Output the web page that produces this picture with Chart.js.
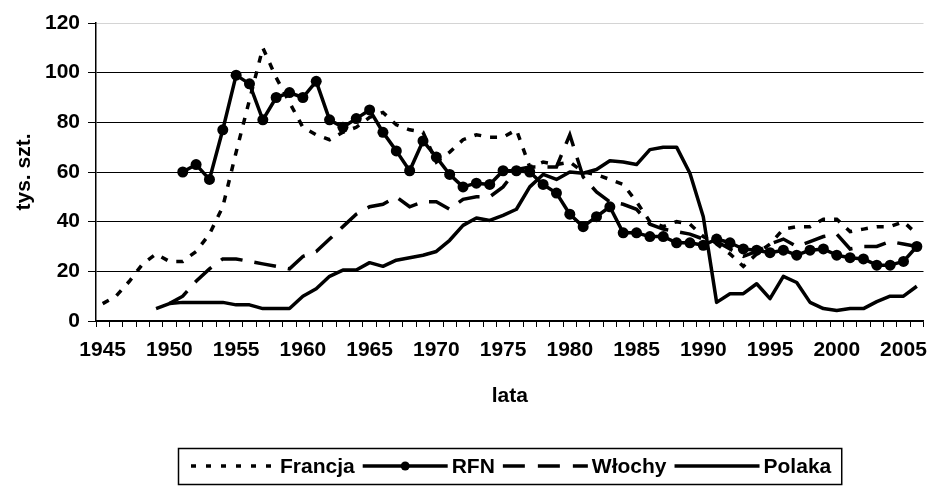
<!DOCTYPE html>
<html>
<head>
<meta charset="utf-8">
<script src="https://cdn.jsdelivr.net/npm/chart.js@4/dist/chart.umd.min.js"></script>
<style>
html,body{margin:0;padding:0;background:#fff;}
#wrap{width:929px;height:487px;}
</style>
</head>
<body>
<div id="wrap"><canvas id="c" width="929" height="487"></canvas></div>
<script>
const years = ["1945","1946","1947","1948","1949","1950","1951","1952","1953","1954",
  "1955","1956","1957","1958","1959","1960","1961","1962","1963","1964",
  "1965","1966","1967","1968","1969","1970","1971","1972","1973","1974",
  "1975","1976","1977","1978","1979","1980","1981","1982","1983","1984",
  "1985","1986","1987","1988","1989","1990","1991","1992","1993","1994",
  "1995","1996","1997","1998","1999","2000","2001","2002","2003","2004",
  "2005","2006"];

const francja = [7,10,16,23,27,24,24,28,35,46,
  68,89,110,98,88,78,75,73,76,78,
  82,84,79,77,76,64,68,73,75,74,
  74,77,62,64,63,64,60,59,57,55,
  48,40,38,40,39,34,31,27,22,27,
  31,37,38,38,41,41,36,37,38,38,
  40,35];

const rfn = [null,null,null,null,null,null,60,63,57,77,
  99,95.5,81,90,92,90,96.5,81,78,81.5,
  85,76,68.5,60.5,72.5,66,59,54,55.5,55,
  60.5,60.5,60,55,51.5,43,38,42,46,35.5,
  35.5,34,34,31.5,31.5,30.5,33,31.5,29,28.5,
  27.5,28.5,26.5,28.5,29,26.5,25.5,25,22.5,22.5,
  24,30];

const wlochy = [null,null,null,null,null,7,10,16,21,25,
  25,24,23,22,21,26,28,33,38,43,
  46,47,50,46,48,48,45,49,50,50,
  54,61,62,62,62,75,58,52,48,47,
  45,39,37,36,35,33,32,29,26,28,
  31,33,30,32,34,35,29,30,30,32,
  31,30];

const polaka = [null,null,null,null,5,7,7.5,7.5,7.5,7.5,
  6.5,6.5,5,5,5,10,13,18,20.5,20.5,
  23.5,22,24.5,25.5,26.5,28,32.5,38.5,41.5,40.5,
  42.5,45,54,59,57,60,59.5,61,64.5,64,
  63,69,70,70,59.5,42,7.5,11,11,15,
  9,18,15.5,7.5,5,4.2,5,5,7.8,10,
  10,14];

const yTicks = [0,20,40,60,80,100,120];
const seriesNames = ["Francja","RFN","Włochy","Polaka"];

const FONT = '"Liberation Sans", Arial, sans-serif';

const boxLegend = {
  id: 'boxLegend',
  afterDraw(chart) {
    const ctx = chart.ctx;
    ctx.save();
    ctx.font = 'bold 21px ' + FONT;
    const sampleW = 85, gapS = 4, gapT = 8, padL = 13, padR = 10;
    const items = chart.data.datasets.map(ds => ({ds, w: ctx.measureText(ds.label).width}));
    let total = padL + padR;
    items.forEach((it, i) => { total += sampleW + gapS + it.w + (i < items.length - 1 ? gapT : 0); });
    const cx = (chart.chartArea.left + chart.chartArea.right) / 2;
    const left = Math.round(cx - total / 2), top = 448, h = 36;
    ctx.lineWidth = 1.5; ctx.strokeStyle = '#000';
    ctx.strokeRect(left + 0.5, top + 0.5, total, h);
    let x = left + padL;
    const y = top + h / 2;
    items.forEach((it) => {
      ctx.save();
      ctx.strokeStyle = '#000';
      ctx.lineWidth = it.ds.borderWidth;
      ctx.setLineDash(it.ds.legendDash || []);
      ctx.beginPath(); ctx.moveTo(x, y); ctx.lineTo(x + sampleW, y); ctx.stroke();
      ctx.restore();
      if (it.ds.pointRadius > 0) {
        ctx.fillStyle = '#000';
        ctx.beginPath(); ctx.arc(x + sampleW / 2, y, 4.5, 0, Math.PI * 2); ctx.fill();
      }
      x += sampleW + gapS;
      ctx.fillStyle = '#000'; ctx.textBaseline = 'middle'; ctx.textAlign = 'left';
      ctx.fillText(it.ds.label, x, y + 1);
      x += it.w + gapT;
    });
    ctx.restore();
  }
};

new Chart(document.getElementById('c'), {
  type: 'line',
  data: {
    labels: years,
    datasets: [
      { label: seriesNames[0], data: francja, borderColor: '#000', backgroundColor: '#000',
        borderWidth: 3.5, borderDash: [7, 9], legendDash: [5, 10], pointRadius: 0, order: 4 },
      { label: seriesNames[1], data: rfn, borderColor: '#000', backgroundColor: '#000',
        borderWidth: 3.5, pointRadius: 5.5, pointBackgroundColor: '#000', pointBorderWidth: 0,
        borderJoinStyle: 'round', order: 3 },
      { label: seriesNames[2], data: wlochy, borderColor: '#000', backgroundColor: '#000',
        borderWidth: 3.5, borderDash: [22, 12], legendDash: [22, 13], pointRadius: 0, order: 2 },
      { label: seriesNames[3], data: polaka, borderColor: '#000', backgroundColor: '#000',
        borderWidth: 3.5, pointRadius: 0, borderJoinStyle: 'round', order: 1 }
    ]
  },
  options: {
    responsive: false,
    animation: false,
    devicePixelRatio: 1,
    spanGaps: false,
    layout: { padding: { left: 0, right: 5, top: 23, bottom: 66 } },
    elements: { line: { tension: 0, fill: false } },
    plugins: { legend: { display: false }, tooltip: { enabled: false } },
    scales: {
      x: {
        type: 'category',
        offset: true,
        afterFit(s) { s.height = 100; },
        grid: { offset: true, drawOnChartArea: false, drawTicks: true, tickLength: 6, color: '#000', tickWidth: 1 },
        border: { display: true, color: '#000', width: 1.5 },
        ticks: {
          autoSkip: false, maxRotation: 0, minRotation: 0, padding: 11, color: '#000',
          font: { family: FONT, size: 21, weight: 'bold' },
          callback: function (v, i) { return i % 5 === 0 ? this.getLabelForValue(v) : ''; }
        },
        title: { display: true, text: 'lata', color: '#000', padding: { top: 0, bottom: 12 },
          font: { family: FONT, size: 21, weight: 'bold' } }
      },
      y: {
        min: yTicks[0], max: yTicks[yTicks.length - 1],
        afterFit(s) { s.width = 96; },
        afterBuildTicks(s) { s.ticks = yTicks.map(v => ({ value: v })); },
        grid: {
          drawTicks: true, tickLength: 8, tickColor: '#000', lineWidth: 1,
          color: (c) => (c.tick && c.tick.value === 120) ? '#d4d4d4' : '#000'
        },
        border: { display: true, color: '#000', width: 1.5 },
        ticks: { padding: 8, color: '#000', font: { family: FONT, size: 21, weight: 'bold' } },
        title: { display: true, text: 'tys. szt.', color: '#000', padding: { top: 12, bottom: 0 },
          font: { family: FONT, size: 21, weight: 'bold' } }
      }
    }
  },
  plugins: [boxLegend]
});
</script>
</body>
</html>
